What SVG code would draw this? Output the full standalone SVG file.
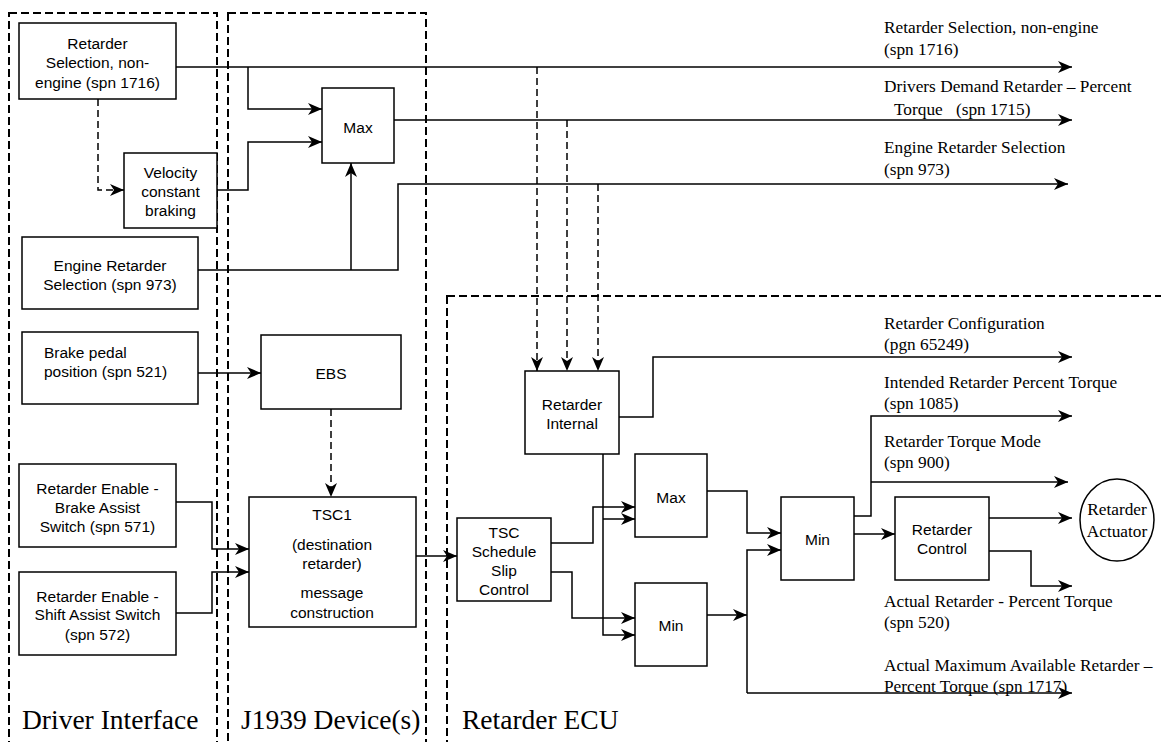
<svg xmlns="http://www.w3.org/2000/svg" width="1161" height="742" viewBox="0 0 1161 742">
<defs>
<marker id="arr" viewBox="0 0 14 12" refX="14" refY="6" markerWidth="14" markerHeight="12" markerUnits="userSpaceOnUse" orient="auto"><path d="M0,0 L14,6 L0,12 L4,6 z" fill="#000"/></marker>
</defs>
<style>
.box{fill:#fff;stroke:#000;stroke-width:1.5}
.region{fill:none;stroke:#000;stroke-width:2;stroke-dasharray:8 4}
.c{fill:none;stroke:#000;stroke-width:1.5;marker-end:url(#arr)}
.d{fill:none;stroke:#000;stroke-width:1.5;stroke-dasharray:7 4;marker-end:url(#arr)}
.t{font-family:"Liberation Sans",Arial,sans-serif;font-size:15.5px;text-anchor:middle;fill:#000}
.tl{font-family:"Liberation Sans",Arial,sans-serif;font-size:15.5px;fill:#000}
.s{font-family:"Liberation Serif","Times New Roman",serif;font-size:17.3px;fill:#000}
.sc{font-family:"Liberation Serif","Times New Roman",serif;font-size:17.3px;fill:#000;text-anchor:middle}
.big{font-family:"Liberation Serif","Times New Roman",serif;font-size:27.5px;fill:#000}
</style>
<rect width="1161" height="742" fill="#fff"/>

<g id="regions">
<rect class="region" x="9" y="13" width="208" height="760"/>
<rect class="region" x="228" y="13" width="198" height="760"/>
<rect class="region" x="447" y="296" width="800" height="500"/>
<text class="big" x="22" y="729">Driver Interface</text>
<text class="big" x="241" y="729">J1939 Device(s)</text>
<text class="big" x="462" y="729">Retarder ECU</text>
</g>

<g id="connectors">
<path class="c" d="M176,67 H1072"/>
<path class="c" d="M248,67 V109 H322"/>
<path class="c" d="M217,190 H248 V142 H322"/>
<path class="d" d="M98,99 V190 H124"/>
<path class="c" d="M394,120 H1072"/>
<path class="c" d="M198,270 H398 V184 H1068"/>
<path class="c" d="M351,270 V163"/>
<path class="c" d="M198,373 H261"/>
<path class="d" d="M331,409 V497"/>
<path class="c" d="M176,502 H212 V549 H249"/>
<path class="c" d="M176,613 H212 V572 H249"/>
<path class="c" d="M416,556 H457"/>
<path class="d" d="M537,67 V371"/>
<path class="d" d="M567,120 V371"/>
<path class="d" d="M598,184 V371"/>
<path class="c" d="M619,417 H653 V357 H1072"/>
<path class="c" d="M603,454 V635 H635"/>
<path class="c" d="M603,519 H635"/>
<path class="c" d="M551,543 H593 V507 H635"/>
<path class="c" d="M551,572 H572 V618 H635"/>
<path class="c" d="M707,491 H747 V533 H781"/>
<path class="c" d="M707,615 H747"/>
<path class="c" d="M747,693 V550 H781"/>
<path class="c" d="M747,693 H1072"/>
<path class="c" d="M854,516 H871 V416 H1072"/>
<path class="c" d="M871,482 H1068"/>
<path class="c" d="M854,534 H895"/>
<path class="c" d="M989,518 H1072"/>
<path class="c" d="M989,551 H1031 V586 H1072"/>
</g>

<g id="n-retsel">
<rect class="box" x="19" y="23" width="157" height="76"/>
<text class="t" x="97.5" y="48.5">Retarder</text>
<text class="t" x="97.5" y="68">Selection, non-</text>
<text class="t" x="97.5" y="87.5">engine (spn 1716)</text>
</g>
<g id="n-velocity">
<rect class="box" x="124" y="153" width="93" height="75"/>
<text class="t" x="170.5" y="177.5">Velocity</text>
<text class="t" x="170.5" y="196.5">constant</text>
<text class="t" x="170.5" y="215.5">braking</text>
</g>
<g id="n-max1">
<rect class="box" x="322" y="88" width="72" height="75"/>
<text class="t" x="358" y="132.5">Max</text>
</g>
<g id="n-engret">
<rect class="box" x="22" y="237" width="176" height="72"/>
<text class="t" x="110" y="270.5">Engine Retarder</text>
<text class="t" x="110" y="289.5">Selection (spn 973)</text>
</g>
<g id="n-brakepedal">
<rect class="box" x="22" y="332" width="176" height="72"/>
<text class="tl" x="44" y="357.5">Brake pedal</text>
<text class="tl" x="44" y="376.5">position (spn 521)</text>
</g>
<g id="n-ebs">
<rect class="box" x="261" y="335" width="140" height="74"/>
<text class="t" x="331" y="378.5">EBS</text>
</g>
<g id="n-brakeassist">
<rect class="box" x="19" y="464" width="157" height="83"/>
<text class="t" x="97.5" y="493.5">Retarder Enable -</text>
<text class="t" x="97.5" y="512.5">Brake Assist</text>
<text class="t" x="97.5" y="531.5">Switch (spn 571)</text>
</g>
<g id="n-shiftassist">
<rect class="box" x="19" y="572" width="157" height="83"/>
<text class="t" x="97.5" y="601.5">Retarder Enable -</text>
<text class="t" x="97.5" y="620">Shift Assist Switch</text>
<text class="t" x="97.5" y="639.5">(spn 572)</text>
</g>
<g id="n-tsc1">
<rect class="box" x="249" y="497" width="167" height="130"/>
<text class="t" x="332" y="519.5">TSC1</text>
<text class="t" x="332" y="549.5">(destination</text>
<text class="t" x="332" y="568.5">retarder)</text>
<text class="t" x="332" y="597.5">message</text>
<text class="t" x="332" y="617.5">construction</text>
</g>
<g id="n-retinternal">
<rect class="box" x="525" y="371" width="94" height="83"/>
<text class="t" x="572" y="409.5">Retarder</text>
<text class="t" x="572" y="428.5">Internal</text>
</g>
<g id="n-tscsched">
<rect class="box" x="457" y="518" width="94" height="83"/>
<text class="t" x="504" y="537.5">TSC</text>
<text class="t" x="504" y="556.5">Schedule</text>
<text class="t" x="504" y="576">Slip</text>
<text class="t" x="504" y="595">Control</text>
</g>
<g id="n-max2">
<rect class="box" x="635" y="454" width="72" height="83"/>
<text class="t" x="671" y="502.5">Max</text>
</g>
<g id="n-min2">
<rect class="box" x="635" y="583" width="72" height="83"/>
<text class="t" x="671" y="630.5">Min</text>
</g>
<g id="n-min3">
<rect class="box" x="781" y="497" width="73" height="83"/>
<text class="t" x="817.5" y="544.5">Min</text>
</g>
<g id="n-retcontrol">
<rect class="box" x="895" y="497" width="94" height="83"/>
<text class="t" x="942" y="534.5">Retarder</text>
<text class="t" x="942" y="553.5">Control</text>
</g>
<g id="n-actuator">
<ellipse class="box" cx="1117" cy="520" rx="37" ry="41"/>
<text class="sc" x="1117" y="515">Retarder</text>
<text class="sc" x="1117" y="537">Actuator</text>
</g>

<g id="labels">
<text class="s" x="884" y="32.5">Retarder Selection, non-engine</text>
<text class="s" x="884" y="55">(spn 1716)</text>
<text class="s" x="884" y="92">Drivers Demand Retarder – Percent</text>
<text class="s" x="894" y="115">Torque</text>
<text class="s" x="956" y="115">(spn 1715)</text>
<text class="s" x="884" y="153">Engine Retarder Selection</text>
<text class="s" x="884" y="175">(spn 973)</text>
<text class="s" x="884" y="329">Retarder Configuration</text>
<text class="s" x="884" y="350">(pgn 65249)</text>
<text class="s" x="884" y="388">Intended Retarder Percent Torque</text>
<text class="s" x="884" y="409">(spn 1085)</text>
<text class="s" x="884" y="447">Retarder Torque Mode</text>
<text class="s" x="884" y="468">(spn 900)</text>
<text class="s" x="884" y="607">Actual Retarder - Percent Torque</text>
<text class="s" x="884" y="628">(spn 520)</text>
<text class="s" x="884" y="671">Actual Maximum Available Retarder –</text>
<text class="s" x="884" y="692">Percent Torque (spn 1717)</text>
</g>
</svg>
